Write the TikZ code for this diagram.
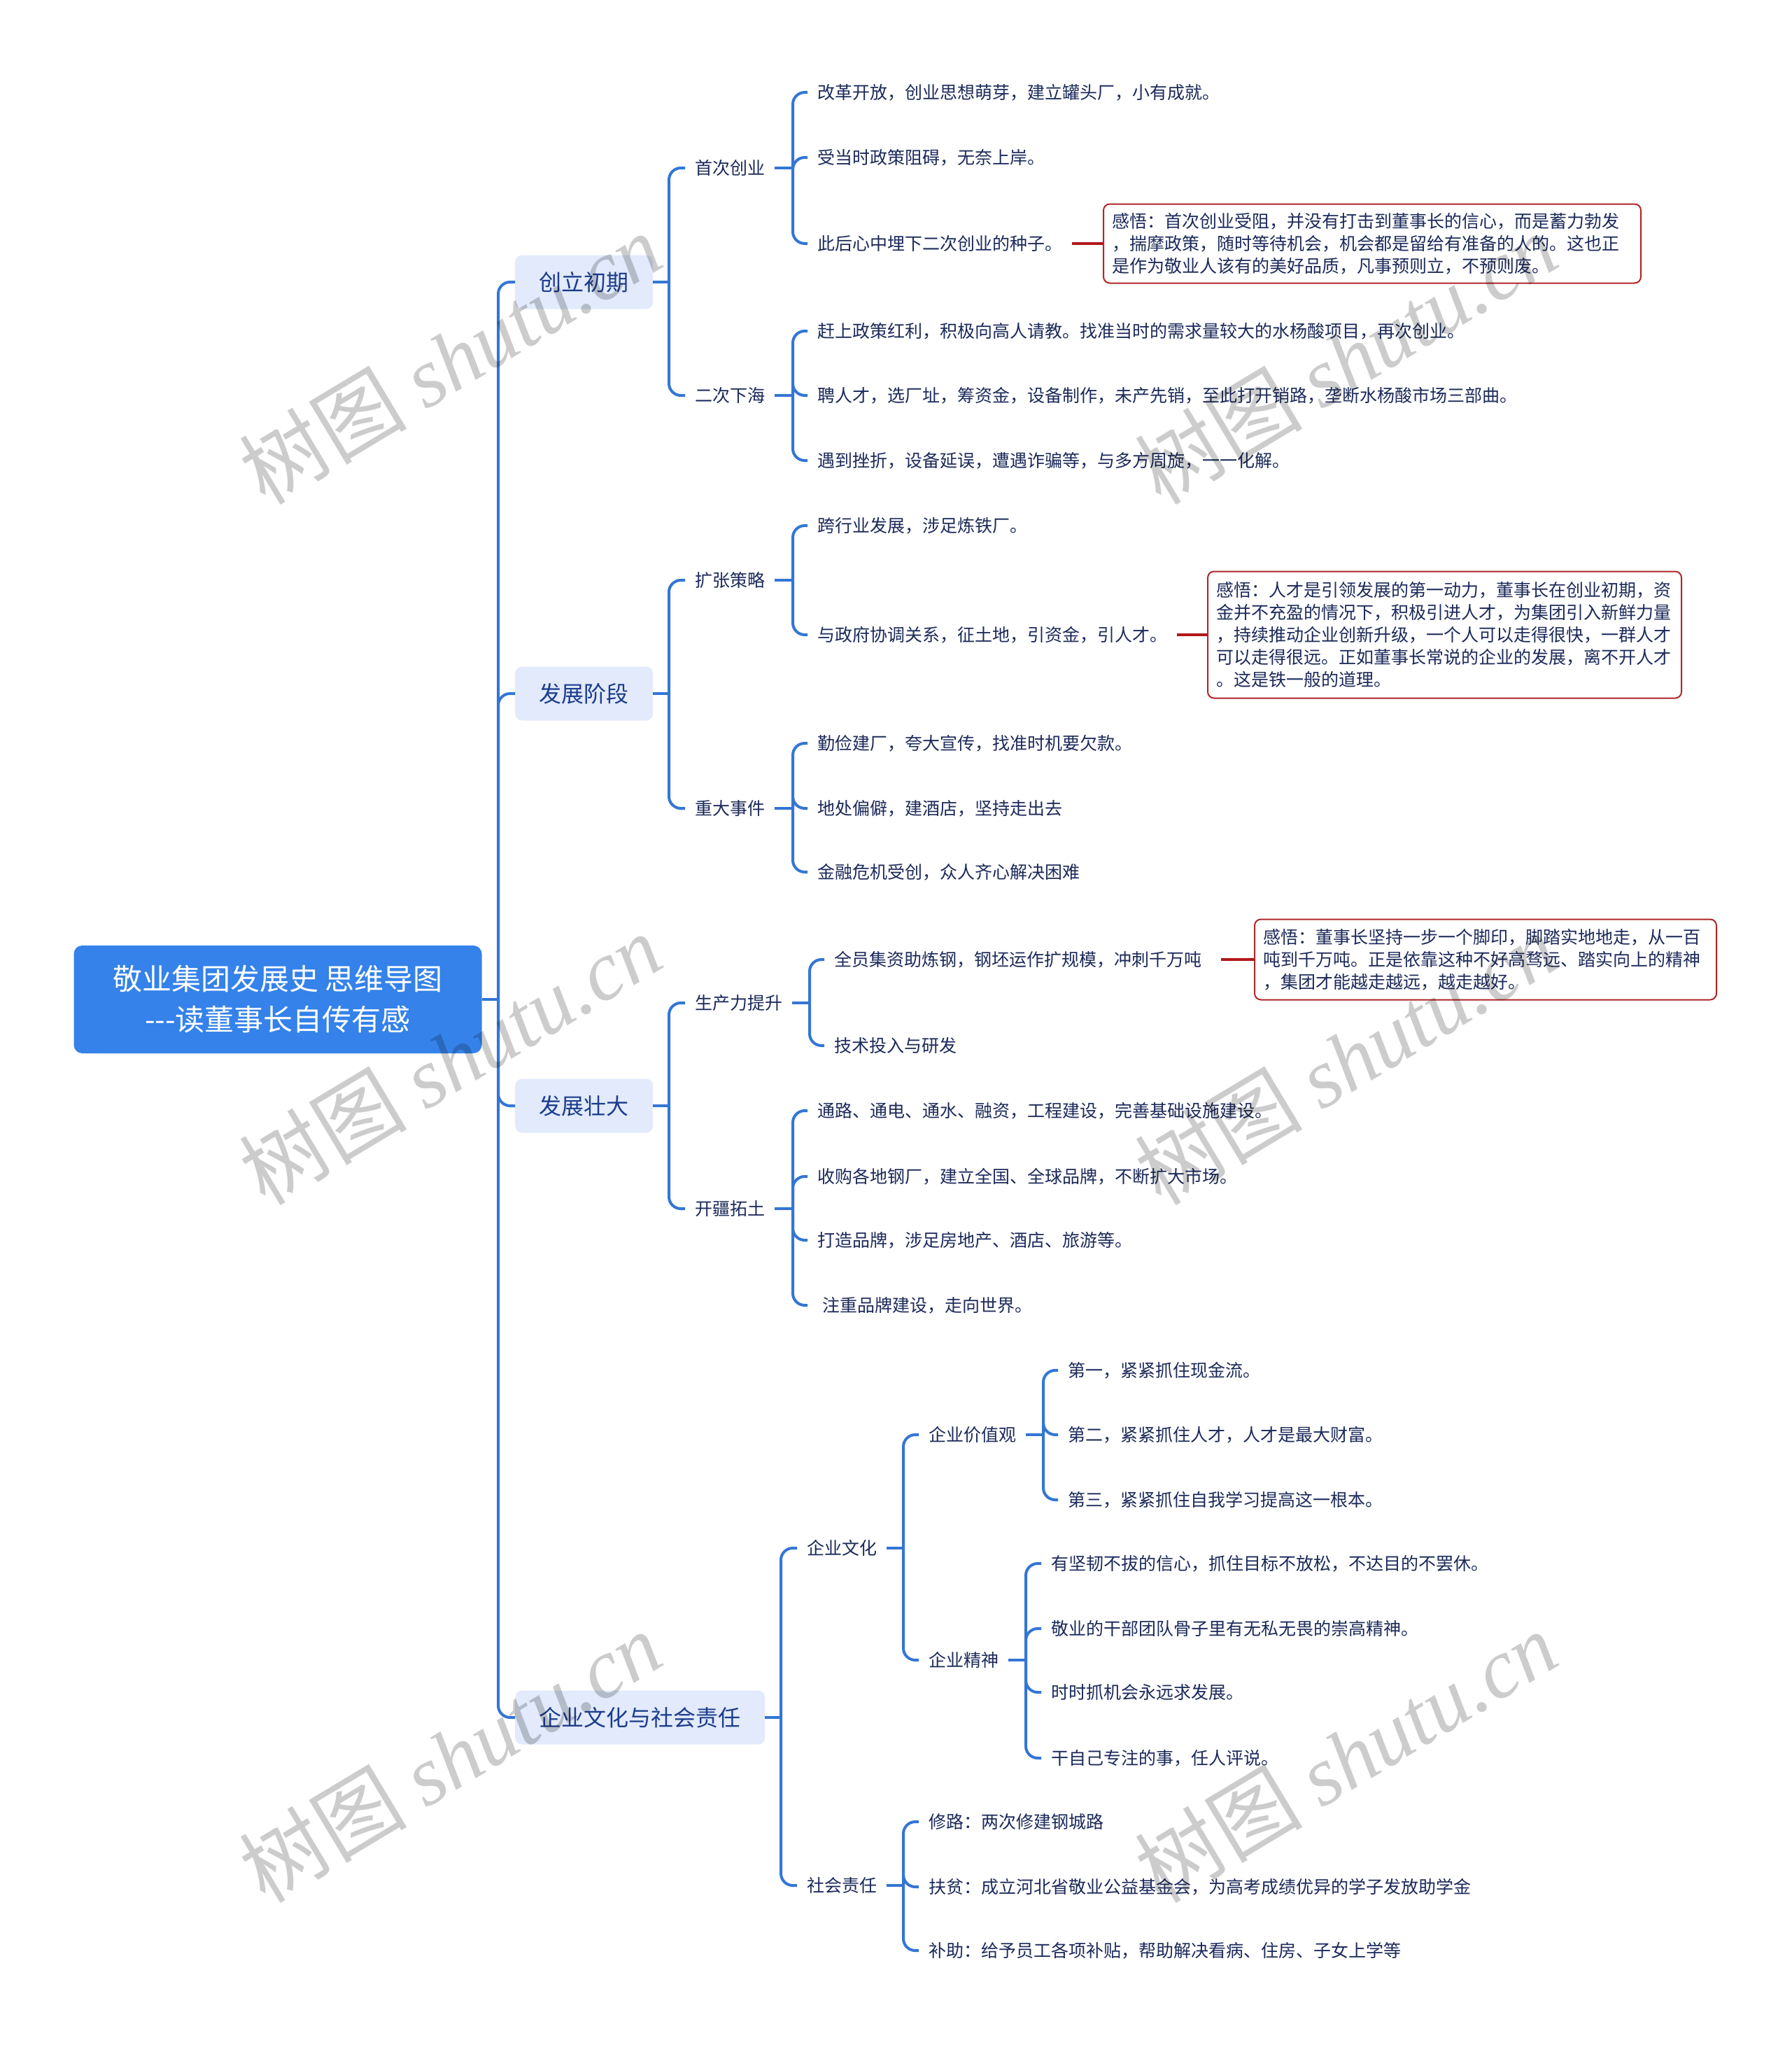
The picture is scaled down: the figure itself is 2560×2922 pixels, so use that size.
\documentclass[tikz,border=0pt]{standalone}
\usepackage{fontspec}
\setmainfont{Noto Sans CJK SC}
\newfontfamily\wmlatin{Liberation Serif}
\definecolor{rootblue}{HTML}{3482EA}
\definecolor{topicfill}{HTML}{E2EAFB}
\definecolor{topictext}{HTML}{1C3C8C}
\definecolor{leaftext}{HTML}{1C2A5A}
\definecolor{lineblue}{HTML}{3476D4}
\definecolor{notered}{HTML}{B0262A}
\definecolor{linkred}{HTML}{B3171B}
\tikzset{
 mroot/.style={rounded corners=12pt, fill=rootblue, text=white, font=\fontsize{42pt}{58pt}\selectfont, align=center, minimum width=583pt, minimum height=154pt, inner sep=0pt},
 mtopic/.style={rounded corners=10pt, fill=topicfill, text=topictext, font=\fontsize{32pt}{38pt}\selectfont, inner xsep=34.5pt, inner ysep=0pt, minimum height=77pt, anchor=west},
 msub/.style={text=leaftext, font=\fontsize{25pt}{30pt}\selectfont, inner xsep=14pt, inner ysep=4pt, anchor=west},
 mnote/.style={draw=notered, line width=2pt, rounded corners=9pt, fill=white, text=leaftext, font=\fontsize{25pt}{32pt}\selectfont, align=left, inner xsep=12pt, inner ysep=6pt, anchor=west},
 mlink/.style={draw=lineblue, line width=4pt, rounded corners=17pt},
 mstub/.style={draw=lineblue, line width=4pt},
 mred/.style={draw=linkred, line width=4pt},
 mwm/.style={text=black, text opacity=0.2, font=\fontsize{120pt}{120pt}\selectfont, rotate=31}
}
\begin{document}
\begin{tikzpicture}[x=1pt,y=-1pt]
\useasboundingbox (0,0) rectangle (2560,2922);
\fill[white] (0,0) rectangle (2560,2922);

% root
\node[mroot] (root) at (397,1428) {敬业集团发展史 思维导图\\-\kern0pt-\kern0pt-读董事长自传有感};
\coordinate (m) at (712,1428);

% level 1
\node[mtopic] (A) at (736,403) {创立初期};
\node[mtopic] (B) at (736,991) {发展阶段};
\node[mtopic] (C) at (736,1580) {发展壮大};
\node[mtopic] (D) at (736,2454) {企业文化与社会责任};

% level 2
\node[msub] (A1) at (979,240) {首次创业};
\node[msub] (A2) at (979,565) {二次下海};
\node[msub] (B1) at (979,829) {扩张策略};
\node[msub] (B2) at (979,1155) {重大事件};
\node[msub] (C1) at (979,1433) {生产力提升};
\node[msub] (C2) at (979,1727) {开疆拓土};
\node[msub] (D1) at (1139,2212) {企业文化};
\node[msub] (D2) at (1139,2694) {社会责任};
\node[msub] (D11) at (1313,2050) {企业价值观};
\node[msub] (D12) at (1313,2372) {企业精神};

% leaves
\node[msub] (a11) at (1154,132) {改革开放，创业思想萌芽，建立罐头厂，小有成就。};
\node[msub] (a12) at (1154,225) {受当时政策阻碍，无奈上岸。};
\node[msub] (a13) at (1154,348) {此后心中埋下二次创业的种子。};
\node[msub] (a21) at (1154,473) {赶上政策红利，积极向高人请教。找准当时的需求量较大的水杨酸项目，再次创业。};
\node[msub] (a22) at (1154,565) {聘人才，选厂址，筹资金，设备制作，未产先销，至此打开销路，垄断水杨酸市场三部曲。};
\node[msub] (a23) at (1154,658) {遇到挫折，设备延误，遭遇诈骗等，与多方周旋，一一化解。};
\node[msub] (b11) at (1154,751) {跨行业发展，涉足炼铁厂。};
\node[msub] (b12) at (1154,907) {与政府协调关系，征土地，引资金，引人才。};
\node[msub] (b21) at (1154,1062) {勤俭建厂，夸大宣传，找准时机要欠款。};
\node[msub] (b22) at (1154,1155) {地处偏僻，建酒店，坚持走出去};
\node[msub] (b23) at (1154,1246) {金融危机受创，众人齐心解决困难};
\node[msub] (c11) at (1178,1371) {全员集资助炼钢，钢坯运作扩规模，冲刺千万吨};
\node[msub] (c12) at (1178,1494) {技术投入与研发};
\node[msub] (c21) at (1154,1587) {通路、通电、通水、融资，工程建设，完善基础设施建设。};
\node[msub] (c22) at (1154,1681) {收购各地钢厂，建立全国、全球品牌，不断扩大市场。};
\node[msub] (c23) at (1154,1772) {打造品牌，涉足房地产、酒店、旅游等。};
\node[msub] (c24) at (1154,1865) {\hspace{7pt}注重品牌建设，走向世界。};
\node[msub] (d111) at (1512,1958) {第一，紧紧抓住现金流。};
\node[msub] (d112) at (1512,2050) {第二，紧紧抓住人才，人才是最大财富。};
\node[msub] (d113) at (1512,2143) {第三，紧紧抓住自我学习提高这一根本。};
\node[msub] (d121) at (1488,2234) {有坚韧不拔的信心，抓住目标不放松，不达目的不罢休。};
\node[msub] (d122) at (1488,2327) {敬业的干部团队骨子里有无私无畏的崇高精神。};
\node[msub] (d123) at (1488,2418) {时时抓机会永远求发展。};
\node[msub] (d124) at (1488,2512) {干自己专注的事，任人评说。};
\node[msub] (d21) at (1313,2603) {修路：两次修建钢城路};
\node[msub] (d22) at (1313,2696) {扶贫：成立河北省敬业公益基金会，为高考成绩优异的学子发放助学金};
\node[msub] (d23) at (1313,2787) {补助：给予员工各项补贴，帮助解决看病、住房、子女上学等};

% callouts
\node[mnote, text width=744pt, minimum height=113pt] (k1) at (1576,348) {感悟：首次创业受阻，并没有打击到董事长的信心，而是蓄力勃发\\，揣摩政策，随时等待机会，机会都是留给有准备的人的。这也正\\是作为敬业人该有的美好品质，凡事预则立，不预则废。};
\node[mnote, text width=653pt, minimum height=181pt] (k2) at (1725,907) {感悟：人才是引领发展的第一动力，董事长在创业初期，资\\金并不充盈的情况下，积极引进人才，为集团引入新鲜力量\\，持续推动企业创新升级，一个人可以走得很快，一群人才\\可以走得很远。正如董事长常说的企业的发展，离不开人才\\。这是铁一般的道理。};
\node[mnote, text width=636pt, minimum height=115pt] (k3) at (1792,1371) {感悟：董事长坚持一步一个脚印，脚踏实地地走，从一百\\吨到千万吨。正是依靠这种不好高骛远、踏实向上的精神\\，集团才能越走越远，越走越好。};

% bus coordinates
\coordinate (bA) at (956,403);
\coordinate (bB) at (956,991);
\coordinate (bC) at (956,1580);
\coordinate (bD) at (1116,2454);
\coordinate (bA1) at (1133,240);
\coordinate (bA2) at (1133,565);
\coordinate (bB1) at (1133,829);
\coordinate (bB2) at (1133,1155);
\coordinate (bC1) at (1157,1433);
\coordinate (bC2) at (1133,1727);
\coordinate (bD1) at (1291,2212);
\coordinate (bD2) at (1291,2694);
\coordinate (bD11) at (1491,2050);
\coordinate (bD12) at (1466,2372);

% root to topics
\draw[mstub] (root.east) -- (m);
\foreach \t in {A,B,C,D} \draw[mlink] (m) |- (\t.west);

% topic stubs and children
\draw[mstub] (A.east) -- (bA);
\foreach \t in {A1,A2} \draw[mlink] (bA) |- (\t.west);
\draw[mstub] (B.east) -- (bB);
\foreach \t in {B1,B2} \draw[mlink] (bB) |- (\t.west);
\draw[mstub] (C.east) -- (bC);
\foreach \t in {C1,C2} \draw[mlink] (bC) |- (\t.west);
\draw[mstub] (D.east) -- (bD);
\foreach \t in {D1,D2} \draw[mlink] (bD) |- (\t.west);

\draw[mstub] (A1.east) -- (bA1);
\foreach \t in {a11,a12,a13} \draw[mlink] (bA1) |- (\t.west);
\draw[mstub] (A2.east) -- (bA2);
\foreach \t in {a21,a22,a23} \draw[mlink] (bA2) |- (\t.west);
\draw[mstub] (B1.east) -- (bB1);
\foreach \t in {b11,b12} \draw[mlink] (bB1) |- (\t.west);
\draw[mstub] (B2.east) -- (bB2);
\foreach \t in {b21,b22,b23} \draw[mlink] (bB2) |- (\t.west);
\draw[mstub] (C1.east) -- (bC1);
\foreach \t in {c11,c12} \draw[mlink] (bC1) |- (\t.west);
\draw[mstub] (C2.east) -- (bC2);
\foreach \t in {c21,c22,c23,c24} \draw[mlink] (bC2) |- (\t.west);
\draw[mstub] (D1.east) -- (bD1);
\foreach \t in {D11,D12} \draw[mlink] (bD1) |- (\t.west);
\draw[mstub] (D2.east) -- (bD2);
\foreach \t in {d21,d22,d23} \draw[mlink] (bD2) |- (\t.west);
\draw[mstub] (D11.east) -- (bD11);
\foreach \t in {d111,d112,d113} \draw[mlink] (bD11) |- (\t.west);
\draw[mstub] (D12.east) -- (bD12);
\foreach \t in {d121,d122,d123,d124} \draw[mlink] (bD12) |- (\t.west);

% red links
\draw[mred] (a13.east) -- (k1.west);
\draw[mred] (b12.east) -- (k2.west);
\draw[mred] ([xshift=14pt]c11.east) -- (k3.west);

% watermarks
\node[mwm] (w1) at (643,512) {树图 {\wmlatin\itshape shutu.cn}};
\node[mwm] (w2) at (1923,512) {树图 {\wmlatin\itshape shutu.cn}};
\node[mwm] (w3) at (643,1513) {树图 {\wmlatin\itshape shutu.cn}};
\node[mwm] (w4) at (1923,1513) {树图 {\wmlatin\itshape shutu.cn}};
\node[mwm] (w5) at (643,2510) {树图 {\wmlatin\itshape shutu.cn}};
\node[mwm] (w6) at (1923,2510) {树图 {\wmlatin\itshape shutu.cn}};
\end{tikzpicture}
\end{document}
